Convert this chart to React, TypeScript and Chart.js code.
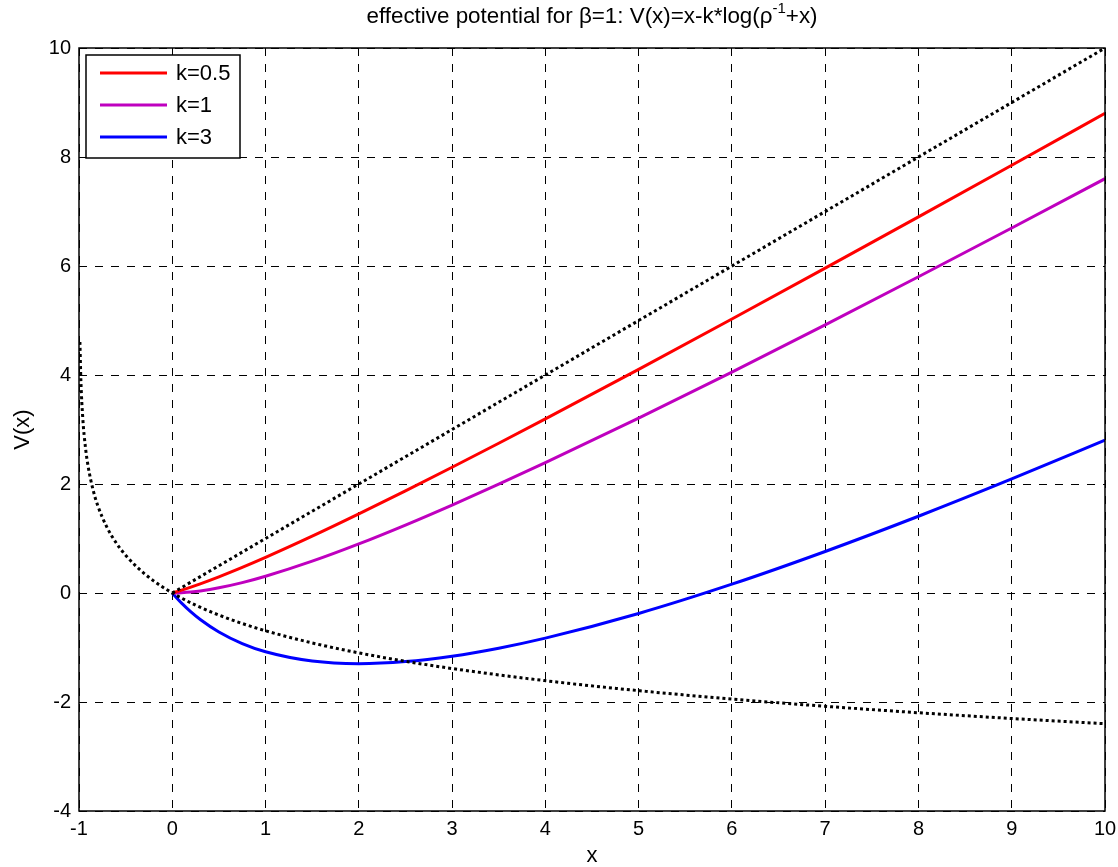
import { useEffect, useRef } from "react";
import { Chart, registerables } from "chart.js";

Chart.register(...registerables);

// ---- data ----
const kX = [0, 0.05, 0.1, 0.2, 0.3, 0.5, 0.75, 1, 1.5, 2, 2.5, 3, 3.5, 4, 5, 6, 7, 8, 9, 10];
const k05 = [0, 0.026, 0.052, 0.109, 0.169, 0.297, 0.47, 0.653, 1.042, 1.451, 1.874, 2.307, 2.748, 3.195, 4.104, 5.027, 5.96, 6.901, 7.849, 8.801];
const k1 = [0, 0.001, 0.005, 0.018, 0.038, 0.095, 0.19, 0.307, 0.584, 0.901, 1.247, 1.614, 1.996, 2.391, 3.208, 4.054, 4.921, 5.803, 6.697, 7.602];
const k3 = [0, -0.096, -0.186, -0.347, -0.487, -0.716, -0.929, -1.079, -1.249, -1.296, -1.258, -1.159, -1.012, -0.828, -0.375, 0.162, 0.762, 1.408, 2.092, 2.806];

const diagX = [0, 10];
const diagY = [0, 10];

const logX = [-0.99, -0.98, -0.96, -0.93, -0.9, -0.85, -0.8, -0.7, -0.6, -0.5, -0.4, -0.3, -0.2, -0.1, 0, 0.25, 0.5, 0.75, 1, 1.5, 2, 2.5, 3, 4, 5, 6, 7, 8, 9, 10];
const logY = [4.605, 3.912, 3.219, 2.659, 2.303, 1.897, 1.609, 1.204, 0.916, 0.693, 0.511, 0.357, 0.223, 0.105, 0, -0.223, -0.405, -0.56, -0.693, -0.916, -1.099, -1.253, -1.386, -1.609, -1.792, -1.946, -2.079, -2.197, -2.303, -2.398];

const seriesLabels = ["k=0.5", "k=1", "k=3"];
const seriesColors = ["#ff0000", "#bf00bf", "#0000ff"];

const xMin = -1;
const xMax = 10;
const xStep = 1;
const yMin = -4;
const yMax = 10;
const yStep = 2;

const titleMain = "effective potential for \u03B2=1: V(x)=x-k*log(\u03C1";
const titleSup = "-1";
const titleEnd = "+x)";
const xLabel = "x";
const yLabel = "V(x)";

const FONT = "'Liberation Sans', Arial, Helvetica, sans-serif";

const pts = (xs: number[], ys: number[]) => xs.map((x, i) => ({ x, y: ys[i] }));

const boxPlugin = {
  id: "boxPlugin",
  afterDatasetsDraw(chart: any) {
    const { ctx, chartArea } = chart;
    const { left, top, right, bottom } = chartArea;
    ctx.save();
    ctx.strokeStyle = "#000";
    ctx.lineWidth = 1.5;
    ctx.strokeRect(left, top, right - left, bottom - top);
    ctx.restore();
  },
};

const legendPlugin = {
  id: "insideLegend",
  afterDraw(chart: any) {
    const { ctx, chartArea } = chart;
    const bx = chartArea.left + 7;
    const by = chartArea.top + 7;
    const bw = 154;
    const bh = 103;
    ctx.save();
    ctx.fillStyle = "#fff";
    ctx.fillRect(bx, by, bw, bh);
    ctx.strokeStyle = "#000";
    ctx.lineWidth = 1.5;
    ctx.strokeRect(bx, by, bw, bh);
    ctx.font = `22px ${FONT}`;
    ctx.textBaseline = "middle";
    ctx.textAlign = "left";
    seriesLabels.forEach((lab, i) => {
      const y = by + 18 + i * 32;
      ctx.strokeStyle = seriesColors[i];
      ctx.lineWidth = 3;
      ctx.beginPath();
      ctx.moveTo(bx + 14, y);
      ctx.lineTo(bx + 81, y);
      ctx.stroke();
      ctx.fillStyle = "#000";
      ctx.fillText(lab, bx + 90, y + 1);
    });
    ctx.restore();
  },
};

const titlePlugin = {
  id: "supTitle",
  afterDraw(chart: any) {
    const { ctx, chartArea } = chart;
    const cx = (chartArea.left + chartArea.right) / 2;
    const base = 23;
    ctx.save();
    ctx.fillStyle = "#000";
    ctx.textBaseline = "alphabetic";
    ctx.textAlign = "left";
    const mainFont = `22.4px ${FONT}`;
    const supFont = `15px ${FONT}`;
    ctx.font = mainFont;
    const w1 = ctx.measureText(titleMain).width;
    const w3 = ctx.measureText(titleEnd).width;
    ctx.font = supFont;
    const w2 = ctx.measureText(titleSup).width;
    let x = cx - (w1 + w2 + w3) / 2;
    ctx.font = mainFont;
    ctx.fillText(titleMain, x, base);
    x += w1;
    ctx.font = supFont;
    ctx.fillText(titleSup, x, base - 10);
    x += w2;
    ctx.font = mainFont;
    ctx.fillText(titleEnd, x, base);
    ctx.restore();
  },
};

export default function App() {
  const ref = useRef<HTMLCanvasElement>(null);

  useEffect(() => {
    document.body.style.margin = "0";
    const canvas = ref.current!;
    const chart = new Chart(canvas, {
      type: "line",
      data: {
        datasets: [
          {
            label: "x",
            data: pts(diagX, diagY),
            borderColor: "#000",
            borderWidth: 3,
            borderDash: [3, 3],
            pointRadius: 0,
            fill: false,
          },
          {
            label: "-log(1+x)",
            data: pts(logX, logY),
            borderColor: "#000",
            borderWidth: 3,
            borderDash: [3, 3],
            pointRadius: 0,
            fill: false,
            cubicInterpolationMode: "monotone",
          },
          ...seriesLabels.map((lab, i) => ({
            label: lab,
            data: pts(kX, [k05, k1, k3][i]),
            borderColor: seriesColors[i],
            borderWidth: 3,
            pointRadius: 0,
            fill: false,
            cubicInterpolationMode: "monotone" as const,
          })),
        ],
      },
      options: {
        animation: false,
        responsive: false,
        maintainAspectRatio: false,
        layout: { padding: { top: 48, right: 13, left: 0, bottom: 0 } },
        plugins: {
          legend: { display: false },
          title: { display: false },
          tooltip: { enabled: false },
        },
        scales: {
          x: {
            type: "linear",
            min: xMin,
            max: xMax,
            afterFit: (s: any) => {
              s.height = 56;
              s.paddingLeft = 0;
              s.paddingRight = 0;
            },
            ticks: {
              stepSize: xStep,
              color: "#000",
              padding: 6,
              maxRotation: 0,
              font: { family: FONT, size: 20 },
            },
            grid: { color: "#000", lineWidth: 1, drawTicks: false },
            border: { display: false, dash: [8, 8] },
            title: {
              display: true,
              text: xLabel,
              color: "#000",
              font: { family: FONT, size: 22, lineHeight: 1 },
              padding: { top: 0, bottom: 0 },
            },
          },
          y: {
            type: "linear",
            min: yMin,
            max: yMax,
            afterFit: (s: any) => {
              s.width = 79;
              s.paddingTop = 0;
              s.paddingBottom = 0;
            },
            ticks: {
              stepSize: yStep,
              color: "#000",
              padding: 8,
              font: { family: FONT, size: 20 },
            },
            grid: { color: "#000", lineWidth: 1, drawTicks: false },
            border: { display: false, dash: [8, 8] },
            title: {
              display: true,
              text: yLabel,
              color: "#000",
              font: { family: FONT, size: 22, lineHeight: 1 },
              padding: { top: 12, bottom: 0 },
            },
          },
        },
      },
      plugins: [boxPlugin, legendPlugin, titlePlugin],
    } as any);
    return () => chart.destroy();
  }, []);

  return (
    <div style={{ width: 1118, height: 867, position: "relative" }}>
      <canvas ref={ref} width={1118} height={867} style={{ display: "block" }} />
    </div>
  );
}
